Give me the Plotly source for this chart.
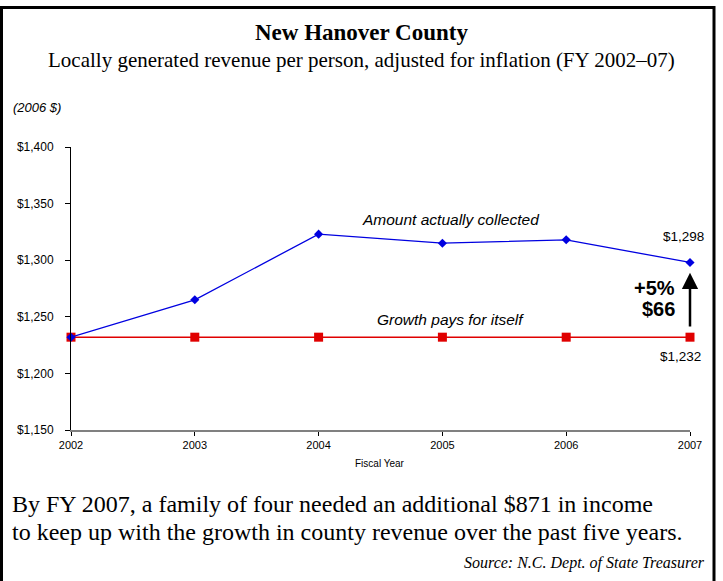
import plotly.graph_objects as go

years = [2002, 2003, 2004, 2005, 2006, 2007]
collected = [1232, 1265, 1323, 1315, 1318, 1298]
growth_pays = [1232, 1232, 1232, 1232, 1232, 1232]
y_ticks = [1150, 1200, 1250, 1300, 1350, 1400]
y_tick_labels = ["$1,150", "$1,200", "$1,250", "$1,300", "$1,350", "$1,400"]

W, H = 723, 581
L, R, T, B = 71, 33, 147, 151
pw, ph = W - L - R, H - T - B

def px(x):
    return (x - L) / pw

def py(y):
    return (H - B - y) / ph

fig = go.Figure()
fig.add_trace(go.Scatter(
    x=years, y=growth_pays, mode="lines+markers",
    line=dict(color="#E00000", width=1.5),
    marker=dict(symbol="square", size=9, color="#E00000"),
    cliponaxis=False, showlegend=False, hoverinfo="skip"))
fig.add_trace(go.Scatter(
    x=years, y=collected, mode="lines+markers",
    line=dict(color="#0000E0", width=1.3),
    marker=dict(symbol="diamond", size=7, color="#0000E0"),
    cliponaxis=False, showlegend=False, hoverinfo="skip"))

serif = "Liberation Serif, Times New Roman, serif"
sans = "Liberation Sans, Arial, sans-serif"

ann = []
def text(x, y, s, size, family, color="black", xanchor="center", xref="paper", yref="paper", **kw):
    ann.append(dict(x=x, y=y, xref=xref, yref=yref, text=s, showarrow=False,
                    font=dict(size=size, family=family, color=color),
                    xanchor=xanchor, yanchor="middle", **kw))

text(px(361), py(32), "<b>New Hanover County</b>", 23, serif)
text(px(361), py(60), "Locally generated revenue per person, adjusted for inflation (FY 2002–07)", 21, serif)
text(px(11), py(107), "<i>(2006 $)</i>", 13, sans, xanchor="left")
text(px(380), py(463), "Fiscal Year", 10, sans)
text(px(451), py(219), "<i>Amount actually collected</i>", 15.5, sans)
text(px(451), py(319), "<i>Growth pays for itself</i>", 15.5, sans)
text(2007, collected[-1], "$1,298", 13.5, sans, xref="x", yref="y", yshift=26, xshift=-7)
text(2007, growth_pays[-1], "$1,232", 13.5, sans, xref="x", yref="y", yshift=-19, xshift=-10)
text(px(677), py(288), "<b>+5%</b>", 20, sans, xanchor="right")
text(px(677), py(309), "<b>$66</b>", 20, sans, xanchor="right")
text(px(10), py(504), "By FY 2007, a family of four needed an additional $871 in income", 24, serif, xanchor="left")
text(px(10), py(532), "to keep up with the growth in county revenue over the past five years.", 24, serif, xanchor="left")
text(px(707), py(563), "<i>Source: N.C. Dept. of State Treasurer</i>", 16, serif, xanchor="right")

# arrow from baseline to collected value
ann.append(dict(x=2007, y=collected[-1] - 9, ax=2007, ay=growth_pays[-1] + 8,
                xref="x", yref="y", axref="x", ayref="y", showarrow=True,
                arrowhead=2, arrowsize=1.3, arrowwidth=2.5, arrowcolor="black", text=""))

fig.update_layout(
    width=W, height=H,
    margin=dict(l=L, r=R, t=T, b=B, pad=0),
    paper_bgcolor="white", plot_bgcolor="white",
    annotations=ann,
    shapes=[dict(type="rect", xref="paper", yref="paper",
                 x0=px(1.5), x1=px(714), y0=py(590), y1=py(7.5),
                 line=dict(color="black", width=3), fillcolor="rgba(0,0,0,0)", layer="below")],
    xaxis=dict(range=[2002, 2007], tickvals=years, ticktext=[str(y) for y in years],
               showgrid=False, zeroline=False, showline=True, linecolor="#808080", linewidth=2,
               ticks="outside", ticklen=4, tickcolor="black", tickwidth=1,
               tickfont=dict(size=11, family=sans, color="black")),
    yaxis=dict(range=[1150, 1400], tickvals=y_ticks, ticktext=y_tick_labels,
               showgrid=False, zeroline=False, showline=True, linecolor="black", linewidth=1,
               ticks="outside", ticklen=5, tickcolor="black", tickwidth=1, ticklabelstandoff=9,
               tickfont=dict(size=12, family=sans, color="black")),
)

fig.write_html("out.html", config={"displayModeBar": False},
               post_script="document.body.style.margin='0';document.body.style.overflow='hidden';")
